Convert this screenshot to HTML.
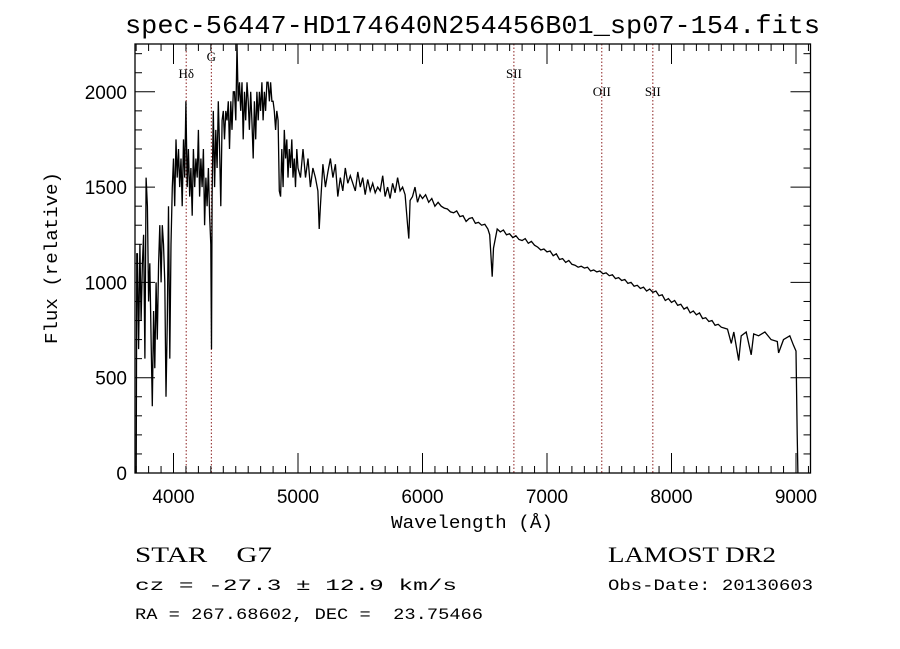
<!DOCTYPE html>
<html><head><meta charset="utf-8"><style>body{margin:0;background:#fff}svg{display:block}text{white-space:pre}</style></head>
<body>
<svg id="chart" width="900" height="649" viewBox="0 0 900 649" xmlns="http://www.w3.org/2000/svg" xml:space="preserve">
<rect width="900" height="649" fill="#fff"/>
<text x="125" y="33" font-family="Liberation Mono, monospace" font-size="26" textLength="695" lengthAdjust="spacingAndGlyphs">spec-56447-HD174640N254456B01_sp07-154.fits</text>
<g id="lines"></g>
<g id="spec"></g>
<rect x="135" y="44" width="675.5" height="429" fill="none" stroke="#000" stroke-width="1.3"/>
<g id="ticks"></g>
<text x="472" y="528" text-anchor="middle" font-family="Liberation Mono, monospace" font-size="18" textLength="162" lengthAdjust="spacingAndGlyphs">Wavelength (Å)</text>
<text transform="translate(57,258) rotate(-90)" text-anchor="middle" font-family="Liberation Mono, monospace" font-size="18" textLength="172" lengthAdjust="spacingAndGlyphs">Flux (relative)</text>
<text x="135" y="562" font-family="Liberation Serif, serif" font-size="22" textLength="137" lengthAdjust="spacingAndGlyphs">STAR    G7</text>
<text x="608" y="562" font-family="Liberation Serif, serif" font-size="22" textLength="168" lengthAdjust="spacingAndGlyphs">LAMOST DR2</text>
<text x="135" y="590" font-family="Liberation Mono, monospace" font-size="16" textLength="322" lengthAdjust="spacingAndGlyphs">cz = -27.3 ± 12.9 km/s</text>
<text x="608" y="590" font-family="Liberation Mono, monospace" font-size="16" textLength="205" lengthAdjust="spacingAndGlyphs">Obs-Date: 20130603</text>
<text x="135" y="619" font-family="Liberation Mono, monospace" font-size="16" textLength="348" lengthAdjust="spacingAndGlyphs">RA = 267.68602, DEC =  23.75466</text>
</svg>
<script>
const wavelengths=[3700,3705,3710,3720,3730,3740,3750,3760,3770,3780,3790,3800,3810,3820,3830,3840,3850,3860,3870,3880,3890,3900,3910,3920,3930,3940,3950,3960,3970,3980,3990,4000,4010,4020,4030,4040,4050,4060,4070,4080,4090,4100,4110,4120,4130,4140,4150,4160,4170,4180,4190,4200,4210,4220,4230,4240,4250,4260,4270,4280,4290,4300,4305,4310,4320,4330,4340,4350,4360,4370,4380,4390,4400,4410,4420,4430,4440,4450,4460,4470,4480,4490,4500,4510,4520,4530,4540,4550,4560,4570,4580,4590,4600,4610,4620,4630,4640,4650,4660,4670,4680,4690,4700,4710,4720,4730,4740,4750,4760,4770,4780,4790,4800,4810,4820,4830,4840,4850,4860,4870,4880,4890,4900,4910,4920,4930,4940,4950,4960,4970,4980,4990,5000,5020,5040,5060,5080,5100,5120,5140,5160,5170,5180,5200,5220,5240,5260,5280,5300,5320,5340,5360,5380,5400,5420,5440,5460,5480,5500,5520,5540,5560,5580,5600,5620,5640,5660,5680,5700,5720,5740,5760,5780,5800,5820,5840,5860,5880,5890,5900,5920,5940,5960,5980,6000,6025,6050,6075,6100,6125,6150,6175,6200,6225,6250,6275,6300,6325,6350,6375,6400,6425,6450,6475,6500,6525,6540,6560,6570,6600,6625,6650,6675,6700,6725,6750,6775,6800,6825,6850,6875,6900,6925,6950,6975,7000,7025,7050,7075,7100,7125,7150,7175,7200,7225,7250,7275,7300,7325,7350,7375,7400,7425,7450,7475,7500,7525,7550,7575,7600,7625,7650,7675,7700,7725,7750,7775,7800,7825,7850,7875,7900,7925,7950,7975,8000,8025,8050,8075,8100,8125,8150,8175,8200,8225,8250,8275,8300,8325,8350,8375,8400,8425,8450,8480,8500,8540,8560,8600,8640,8660,8700,8750,8800,8850,8860,8900,8950,8980,9000,9010,9015];
const flux=[0,1150,1150,650,1200,800,1100,1250,600,1550,1400,900,1100,700,350,850,550,1000,700,1100,1300,1000,1300,1200,1000,400,800,1400,600,1200,1500,1650,1400,1750,1550,1700,1500,1650,1400,1750,1550,1950,1500,1700,1450,1600,1350,1700,1500,1650,1550,1800,1450,1650,1500,1700,1300,1550,1400,1600,1350,1200,650,1450,1900,1500,1800,1600,1950,1700,1400,1850,1900,1750,1900,1850,1950,1700,1950,1800,2000,2000,1850,2250,1950,2050,1900,2050,1750,2000,1850,2050,1950,1800,2000,1850,1650,1950,1750,2000,1850,2000,1900,2050,1850,2000,1900,2050,2050,1950,2050,1950,1950,1900,1800,1900,1850,1480,1450,1700,1500,1800,1650,1750,1550,1700,1600,1750,1550,1650,1500,1700,1600,1550,1700,1550,1650,1500,1600,1550,1480,1280,1400,1620,1500,1580,1650,1550,1620,1450,1550,1480,1600,1520,1560,1520,1480,1580,1500,1550,1460,1540,1480,1520,1470,1500,1480,1560,1450,1500,1440,1520,1470,1550,1480,1500,1460,1300,1230,1430,1450,1500,1420,1460,1440,1460,1420,1440,1400,1420,1400,1390,1385,1370,1365,1375,1345,1350,1320,1335,1340,1310,1315,1300,1305,1280,1250,1030,1180,1280,1265,1275,1250,1255,1235,1245,1225,1220,1230,1205,1215,1195,1185,1170,1175,1160,1165,1140,1150,1120,1125,1105,1115,1095,1090,1080,1085,1075,1080,1060,1065,1055,1060,1045,1050,1035,1040,1020,1025,1010,1015,995,1000,980,985,968,975,955,965,948,955,930,935,905,915,895,905,880,885,860,870,840,850,830,840,810,815,795,800,775,780,765,760,755,680,740,590,720,740,620,730,720,740,700,690,630,700,720,670,640,200,0];
const lineWaves=[4102,4304,6734,7440,7850];
const lineLabels=["Hδ","G","SII","OII","SII"];
const lineLabelY=[78,61,78,96,96];
const xTicks=[4000,5000,6000,7000,8000,9000];
const yTicks=[0,500,1000,1500,2000];
const NS="http://www.w3.org/2000/svg";
function X(w){return 298+(w-5000)*0.1245;}
function Y(v){return 473-v*0.1906;}
function mk(tag,attrs,parent){const e=document.createElementNS(NS,tag);for(const k in attrs)e.setAttribute(k,attrs[k]);parent.appendChild(e);return e;}
const spec=document.getElementById('spec'),lg=document.getElementById('lines'),tg=document.getElementById('ticks');
let d='';wavelengths.forEach((w,i)=>{d+=(i?'L':'M')+X(w).toFixed(1)+','+Math.max(44,Y(flux[i])).toFixed(1);});
const p=mk('path',{d:d,fill:'none',stroke:'#000','stroke-width':1.3},spec);


lineWaves.forEach((w,i)=>{
 const l=mk('line',{x1:X(w),x2:X(w),y1:44,y2:473,stroke:'#8b2020','stroke-width':1,'stroke-dasharray':'1.5,2'},lg);
 
 
 const t=mk('text',{x:X(w),y:lineLabelY[i],'text-anchor':'middle','font-family':'Liberation Serif, serif','font-size':13},lg);
 t.textContent=lineLabels[i];
 
 
});
for(let w=3700;w<=9100;w+=100){const maj=w%1000===0;const len=maj?20:7;
 mk('line',{x1:X(w),x2:X(w),y1:473,y2:473-len,stroke:'#000','stroke-width':1},tg);
 mk('line',{x1:X(w),x2:X(w),y1:44,y2:44+len,stroke:'#000','stroke-width':1},tg);}
for(let v=0;v<=2250;v+=100){const maj=v%500===0;const len=maj?20:7;
 mk('line',{x1:135,x2:135+len,y1:Y(v),y2:Y(v),stroke:'#000','stroke-width':1},tg);
 mk('line',{x1:810.5,x2:810.5-len,y1:Y(v),y2:Y(v),stroke:'#000','stroke-width':1},tg);}
xTicks.forEach(w=>{const t=mk('text',{x:X(w),y:503,'text-anchor':'middle','font-family':'Liberation Sans, sans-serif','font-size':19},tg);t.textContent=w;
 
 });
yTicks.forEach(v=>{const t=mk('text',{x:127,y:Y(v)+7,'text-anchor':'end','font-family':'Liberation Sans, sans-serif','font-size':19},tg);t.textContent=v;
 
 });
</script>
</body></html>
